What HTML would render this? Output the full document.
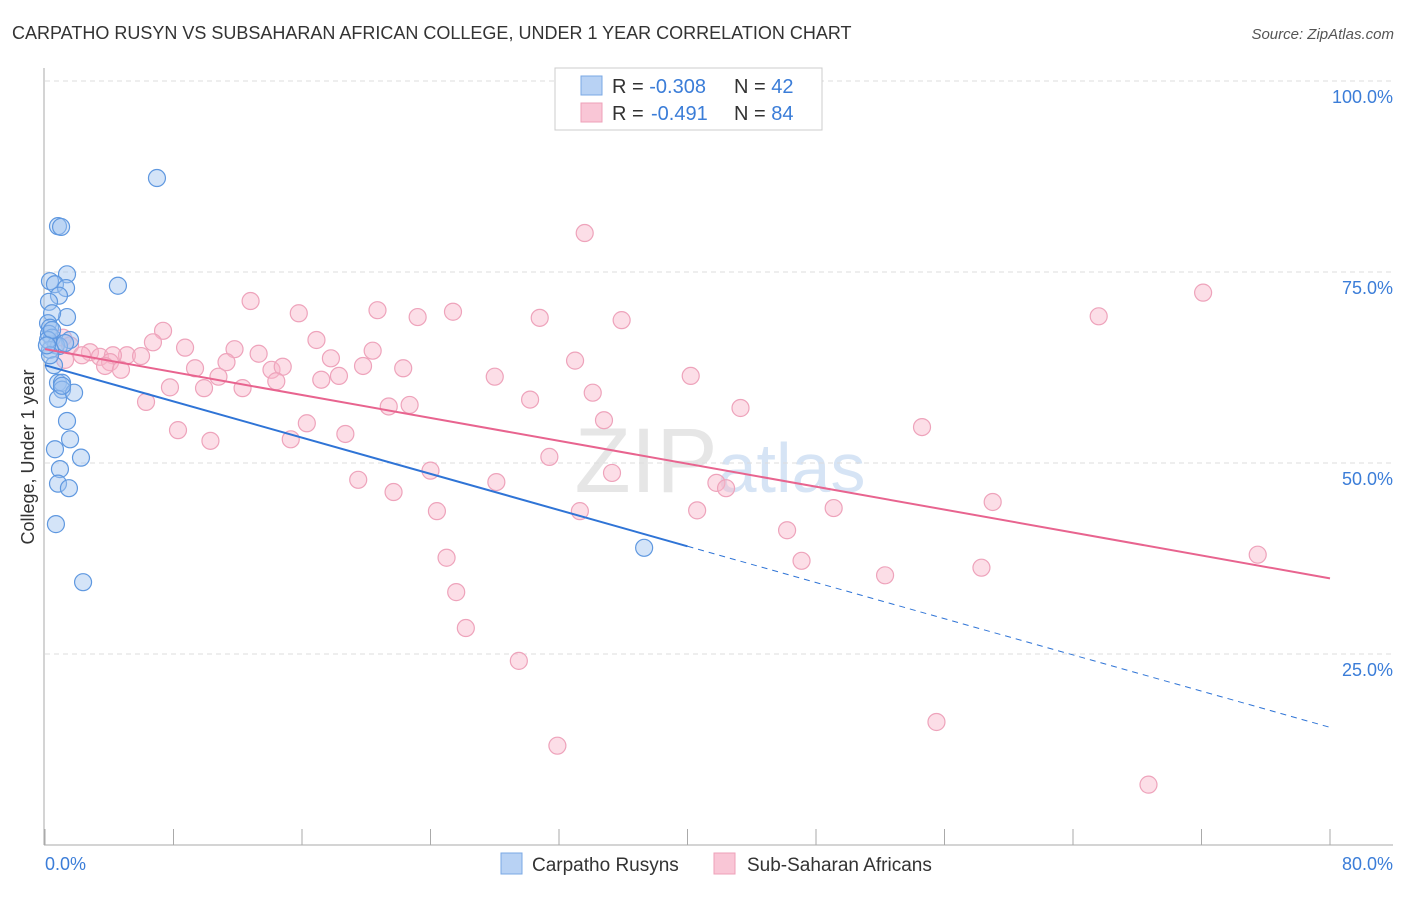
<!DOCTYPE html>
<html><head><meta charset="utf-8"><style>
body{margin:0;background:#fff;font-family:"Liberation Sans",sans-serif}
svg text{font-family:"Liberation Sans",sans-serif}
</style></head><body>
<svg id="chart" width="1406" height="892" xmlns="http://www.w3.org/2000/svg">
<text x="12" y="39" font-size="18" fill="#333">CARPATHO RUSYN VS SUBSAHARAN AFRICAN COLLEGE, UNDER 1 YEAR CORRELATION CHART</text>
<text x="1394" y="39" font-size="15" fill="#555" text-anchor="end" font-style="italic">Source: ZipAtlas.com</text>
<text x="720" y="492" font-size="92" fill="#e6e6e6" text-anchor="middle" font-family="Liberation Serif">ZIP<tspan fill="#d6e4f5" font-family="Liberation Sans" font-size="70">atlas</tspan></text>
<g id="grid"></g>
<g id="axes"></g>
<g id="marks"></g>
<text transform="translate(34,457) rotate(-90)" font-size="18" fill="#333" text-anchor="middle">College, Under 1 year</text>
<g>
<rect x="555" y="68" width="267" height="62" fill="#fff" stroke="#ccc"/>
<rect x="581" y="76" width="21" height="19" fill="#b8d2f4" stroke="#7aa8e4"/>
<rect x="581" y="103" width="21" height="19" fill="#f9c6d6" stroke="#eea0b8"/>
<text x="612" y="93" font-size="20" fill="#333">R = <tspan fill="#3b7dd8">-0.308</tspan><tspan x="734">N = </tspan><tspan fill="#3b7dd8">42</tspan></text>
<text x="612" y="120" font-size="20" fill="#333">R = <tspan fill="#3b7dd8" x="651">-0.491</tspan><tspan x="734">N = </tspan><tspan fill="#3b7dd8">84</tspan></text>
</g>
<g>
<rect x="501" y="853" width="21" height="21" fill="#b8d2f4" stroke="#7aa8e4"/>
<text x="532" y="871" font-size="19" fill="#333">Carpatho Rusyns</text>
<rect x="714" y="853" width="21" height="21" fill="#f9c6d6" stroke="#eea0b8"/>
<text x="747" y="871" font-size="19" fill="#333">Sub-Saharan Africans</text>
</g>
</svg>
<script>
const blueX=[6.97,0.81,1.0,1.37,0.31,0.62,1.31,4.54,0.87,0.25,1.37,0.44,0.19,0.31,0.25,1.56,0.44,0.68,0.87,1.25,0.31,0.56,0.81,1.06,1.06,1.81,0.81,1.37,1.56,0.62,2.24,0.93,0.81,1.49,0.68,2.37,37.3,0.19,0.31,1.06,0.44,0.12];
const blueY=[87.3,81.0,80.9,74.7,73.8,73.4,72.9,73.2,71.9,71.1,69.1,69.6,68.3,67.7,66.9,66.1,66.4,65.4,65.3,65.7,64.8,62.8,60.5,60.5,59.6,59.2,58.4,55.5,53.1,51.8,50.7,49.2,47.3,46.7,42.0,34.4,38.9,66.1,64.1,60.1,67.4,65.4];
const pinkX=[33.6,72.1,12.8,20.7,15.8,25.4,23.2,30.8,35.9,65.6,7.35,16.9,6.72,8.72,11.8,20.4,13.3,17.8,1.12,1.56,2.8,3.42,5.1,5.98,4.23,2.3,4.05,3.74,4.73,9.34,11.3,14.1,14.8,19.8,22.3,33.0,10.8,14.4,17.2,18.3,28.0,40.2,7.78,9.9,12.3,6.29,34.1,30.2,21.4,22.7,43.3,34.8,16.3,8.28,18.7,10.3,15.3,54.6,31.4,24.0,35.3,19.5,28.1,21.7,41.8,42.4,59.0,24.4,33.3,40.6,49.1,46.2,25.0,47.1,75.5,52.3,58.3,25.6,26.2,29.5,55.5,31.9,68.7,1.25];
const pinkY=[80.1,72.3,71.2,70.0,69.6,69.8,69.1,69.0,68.7,69.2,67.3,66.1,65.8,65.1,64.9,64.7,64.3,63.7,66.4,65.4,64.5,63.9,64.1,64.0,64.1,64.1,63.2,62.7,62.2,62.4,63.2,62.2,62.6,62.7,62.4,63.4,61.3,60.7,60.9,61.4,61.3,61.4,59.9,59.8,59.8,58.0,59.2,58.3,57.4,57.6,57.2,55.6,55.2,54.3,53.8,52.9,53.1,54.7,50.8,49.0,48.7,47.8,47.5,46.2,47.4,46.7,44.9,43.7,43.7,43.8,44.1,41.2,37.6,37.2,38.0,35.3,36.3,33.1,28.4,24.1,16.1,13.0,7.9,63.5];
const blueTrend=[62.8,15.4];
const pinkTrend=[64.9,34.9];
const yTicks=[25,50,75,100];
const xTicks=[0,8,16,24,32,40,48,56,64,72,80];
const xTickLabels=["0.0%","80.0%"];
const NS="http://www.w3.org/2000/svg";
const X=v=>45+v*(1285/80), Y=v=>845-v*7.64;
function mk(t,a,p){const e=document.createElementNS(NS,t);for(const k in a)e.setAttribute(k,a[k]);p.appendChild(e);return e;}
const grid=document.getElementById('grid'),axes=document.getElementById('axes'),marks=document.getElementById('marks');
yTicks.forEach(t=>{
 const l=mk('line',{x1:45,x2:1393,y1:Y(t),y2:Y(t),stroke:'#ddd','stroke-dasharray':'5,4'},grid);
 
 
 const tx=mk('text',{x:1393,y:Y(t)+22,'font-size':18,fill:'#3b7dd8','text-anchor':'end'},axes);
 tx.textContent=t.toFixed(1)+'%';
 
 
});
const ya=mk('line',{x1:44,x2:44,y1:68,y2:845,stroke:'#aaa'},axes);


const xa=mk('line',{x1:44,x2:1393,y1:845,y2:845,stroke:'#aaa'},axes);


xTicks.forEach(i=>{const t=mk('line',{x1:X(i),x2:X(i),y1:829,y2:845,stroke:'#aaa'},axes);
 
 });
[[0,'start',45],[80,'end',1393]].forEach((d,i)=>{const t=mk('text',{x:d[2],y:870,'font-size':18,fill:'#3b7dd8','text-anchor':d[1]},axes);t.textContent=xTickLabels[i];
 
 });
pinkX.forEach((x,i)=>{const c=mk('circle',{cx:X(x),cy:Y(pinkY[i]),r:8.5,fill:'rgba(248,182,202,0.45)',stroke:'#eea3bb','stroke-width':1.2},marks);
 
 });
blueX.forEach((x,i)=>{const c=mk('circle',{cx:X(x),cy:Y(blueY[i]),r:8.5,fill:'rgba(160,196,240,0.45)',stroke:'#5f98e0','stroke-width':1.2},marks);
 
 });
const by=x=>blueTrend[0]+(blueTrend[1]-blueTrend[0])*x/80, py=x=>pinkTrend[0]+(pinkTrend[1]-pinkTrend[0])*x/80;
const bl=mk('line',{x1:X(0),y1:Y(by(0)),x2:X(40),y2:Y(by(40)),stroke:'#2f74d6','stroke-width':2},marks);


const bd=mk('line',{x1:X(40),y1:Y(by(40)),x2:X(80),y2:Y(by(80)),stroke:'#2f74d6','stroke-width':1,'stroke-dasharray':'6,5'},marks);


const pl=mk('line',{x1:X(0),y1:Y(py(0)),x2:X(80),y2:Y(py(80)),stroke:'#e8648f','stroke-width':2},marks);


</script>
</body></html>
